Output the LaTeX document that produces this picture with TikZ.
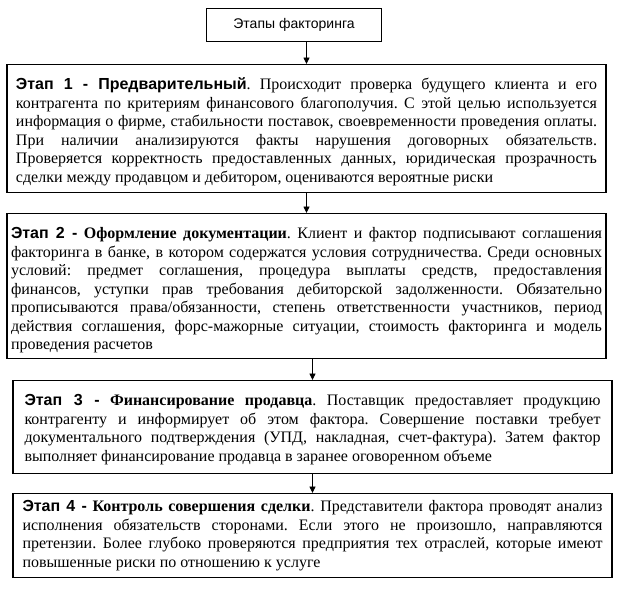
\documentclass[tikz,border=0pt]{standalone}
\usepackage{fontspec}
\setmainfont{Liberation Serif}
\setsansfont{Liberation Sans}
\usetikzlibrary{positioning,arrows.meta}
\frenchspacing
\tolerance=10000
\hyphenpenalty=10000
\exhyphenpenalty=10000
\tikzset{
  heading/.style={ font=\sffamily\fontsize{14}{16}\selectfont, rectangle, draw=black, line width=1pt,
                   inner sep=0pt, minimum width=175pt, minimum height=33pt },
  stage/.style  ={ font=\fontsize{16}{18.5}\selectfont, rectangle, draw=black, line width=1.2pt,
                   align=justify, inner ysep=0pt, text height=25pt, anchor=north },
  flow/.style={-{Triangle[width=6pt,length=6.5pt]}, draw=black, line width=0.9pt}
}
\newcommand{\stagelabel}[1]{{\sffamily\bfseries #1}}

\begin{document}
\begin{tikzpicture}[x=1pt,y=-1pt]
        \useasboundingbox (0,0) rectangle (628,594);
        \node[heading] (title) at (294, 25) {Этапы факторинга};
        \node[stage, text width=581pt, inner xsep=9pt, text depth=102.5pt] (b1) at (306.5, 64)
          {\stagelabel{Этап 1 - Предварительный}. Происходит проверка будущего клиента и его\linebreak
           контрагента по критериям финансового благополучия. С этой целью используется\linebreak
           информация о фирме, стабильности поставок, своевременности проведения оплаты.\linebreak
           При наличии анализируются факты нарушения договорных обязательств.\linebreak
           Проверяется корректность предоставленных данных, юридическая прозрачность\linebreak
           сделки между продавцом и дебитором, оцениваются вероятные риски};
        \node[stage, text width=591pt, inner xsep=4pt, text depth=120pt] (b2) at (306.5, 213)
          {\stagelabel{Этап 2 -} \textbf{Оформление документации}. Клиент и фактор подписывают соглашения\linebreak
           факторинга в банке, в котором содержатся условия сотрудничества. Среди основных\linebreak
           условий: предмет соглашения, процедура выплаты средств, предоставления\linebreak
           финансов, уступки прав требования дебиторской задолженности. Обязательно\linebreak
           прописываются права/обязанности, степень ответственности участников, период\linebreak
           действия соглашения, форс-мажорные ситуации, стоимость факторинга и модель\linebreak
           проведения расчетов};
        \node[stage, text width=576pt, inner xsep=11.5pt, text depth=67.5pt] (b3) at (312.5, 380)
          {\stagelabel{Этап 3 -} \textbf{Финансирование продавца}. Поставщик предоставляет продукцию\linebreak
           контрагенту и информирует об этом фактора. Совершение поставки требует\linebreak
           документального подтверждения (УПД, накладная, счет-фактура). Затем фактор\linebreak
           выполняет финансирование продавца в заранее оговоренном объеме};
        \node[stage, text width=580pt, inner xsep=9.5pt, text height=18pt, text depth=65.5pt] (b4) at (312.5, 493)
          {\stagelabel{Этап 4 -} \textbf{Контроль совершения сделки}. Представители фактора проводят анализ\linebreak
           исполнения обязательств сторонами. Если этого не произошло, направляются\linebreak
           претензии. Более глубоко проверяются предприятия тех отраслей, которые имеют\linebreak
           повышенные риски по отношению к услуге};
        \draw[flow] (title.south -| b1.north) -- (b1.north);
        \draw[flow] (b1.south) -- (b2.north);
        \draw[flow] (b2.south -| b3.north) -- (b3.north);
        \draw[flow] (b3.south) -- (b4.north);
      \end{tikzpicture}
\end{document}
